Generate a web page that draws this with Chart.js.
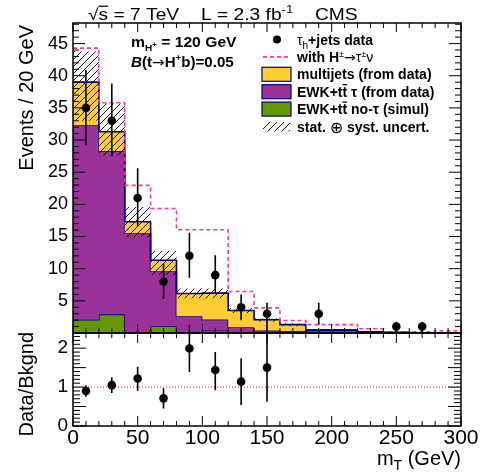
<!DOCTYPE html>
<html>
<head>
<meta charset="utf-8">
<title>mT distribution</title>
<script src="https://cdn.jsdelivr.net/npm/chart.js@4.4.1/dist/chart.umd.min.js"></script>
<style>
  html, body { margin: 0; padding: 0; background: #fff; }
  #wrap { position: relative; width: 488px; height: 474px; overflow: hidden; }
  #wrap canvas { position: absolute; left: 0; }
  #main { top: 0; }
  #ratio { top: 310px; }
</style>
</head>
<body>
<div id="wrap">
  <canvas id="main" width="488" height="360"></canvas>
  <canvas id="ratio" width="488" height="164"></canvas>
</div>
<script>
/* ------------------------------------------------------------
   DATA  (20 GeV bins)
------------------------------------------------------------ */
const binEdges   = [0, 20, 40, 60, 80, 100, 120, 140, 160, 180, 200, 220, 240, 260, 280, 300];
const binCenters = [10, 30, 50, 70, 90, 110, 130, 150, 170, 190, 210, 230, 250, 270, 290];

// stacked backgrounds (per-component, not cumulative)
const ewkNoTau  = [2.05, 2.9, 0, 1.05, 0.1, 0.4, 0, 0, 0, 0, 0, 0, 0, 0, 0];
const ewkTau    = [30.25, 25.4, 15.5, 8.55, 2.5, 1.7, 0.9, 0.4, 0.3, 0.45, 0.45, 0.2, 0.1, 0.05, 0.05];
const multijets = [6.7, 3.0, 1.8, 1.7, 3.55, 4.1, 2.6, 1.65, 1.0, 0, 0, 0, 0, 0, 0];

// stat + syst uncertainty band on the total
const uncLow  = [33.0, 27.6, 14.9, 9.0, 5.4, 5.4, 3.1, 1.75, 1.05, 0.3, 0.3, 0.1, 0.05, 0, 0];
const uncHigh = [43.8, 35.7, 19.6, 12.75, 6.9, 6.9, 3.9, 2.3, 1.5, 0.6, 0.6, 0.3, 0.15, 0.1, 0.1];

// background + H+ signal (mH = 120 GeV, B = 0.05)
const withSignal = [44.3, 35.8, 22.95, 19.35, 16.05, 16.05, 6.45, 3.9, 1.95, 1.3, 1.3, 0.65, 0.2, 0.2, 0.35];

// tau_h + jets data
const dataCounts  = [35, 33, 21, 8, 12, 9, 4, 3, null, 3, null, null, 1, 1, null];
const dataErrLow  = [29.2, 27.5, 16.6, 5.3, 8.6, 6.1, 2.0, 1.3, null, 1.3, null, null, 0.2, 0.2, null];
const dataErrHigh = [40.9, 38.8, 25.6, 10.8, 15.6, 12.1, 6.0, 4.7, null, 4.7, null, null, 1.7, 1.7, null];

// data / background ratio
const ratioValues  = [0.9, 1.05, 1.22, 0.71, 1.99, 1.44, 1.14, 1.5, null, null, null, null, null, null, null];
const ratioErrLow  = [0.75, 0.85, 0.9, 0.45, 1.39, 0.92, 0.54, 0.62, null, null, null, null, null, null, null];
const ratioErrHigh = [1.05, 1.25, 1.52, 0.97, 2.6, 1.9, 1.74, 2.6, null, null, null, null, null, null, null];
const ratioRefLine = [1, 1];

// tick labels
const mainYTicks  = [5, 10, 15, 20, 25, 30, 35, 40, 45];
const ratioYTicks = [0, 0.5, 1, 1.5, 2];
const xTicks      = [0, 50, 100, 150, 200, 250, 300];

/* ------------------------------------------------------------
   STYLE
------------------------------------------------------------ */
const FONT = "'Liberation Sans', Arial, Helvetica, sans-serif";
const SYM_FONT = "'DejaVu Sans', sans-serif";
const C_YELLOW = '#ffcc33';
const C_PURPLE = '#993399';
const C_GREEN  = '#669900';
const C_NAVY   = '#000080';
const C_PINK   = '#ff3399';
const RATIO_TOP = 310;   // page offset of the ratio canvas

Chart.defaults.font.family = FONT;
Chart.defaults.color = '#000';

/* ------------------------------------------------------------
   HELPERS
------------------------------------------------------------ */
// step histogram: one point per left bin edge + closing point at the last edge
function histPoints(vals) {
    const pts = vals.map((v, i) => ({ x: binEdges[i], y: v }));
    pts.push({ x: binEdges[binEdges.length - 1], y: vals[vals.length - 1] });
    return pts;
}

function centerPoints(vals) {
    return binCenters.map((c, i) => ({ x: c, y: vals[i] }));
}

function makeHatch() {
    const c = document.createElement('canvas');
    c.width = 7; c.height = 7;
    const g = c.getContext('2d');
    g.strokeStyle = '#000';
    g.lineWidth = 0.9;
    g.beginPath();
    [-7, 0, 7].forEach(o => { g.moveTo(o - 1, 8); g.lineTo(o + 8, -1); });
    g.stroke();
    return g.createPattern(c, 'repeat');
}
const hatch = makeHatch();

function runFont(r) {
    return `${r.italic ? 'italic ' : ''}${r.bold ? 'bold ' : ''}${r.size}px ${r.sym ? SYM_FONT : FONT}`;
}

function runsWidth(ctx, runs) {
    let w = 0;
    runs.forEach(r => { ctx.font = runFont(r); w += ctx.measureText(r.text).width; });
    return w;
}

// rich text: runs of {text, size, bold, italic, sym, dy, bar}
function drawRuns(ctx, x, y, runs, sx) {
    ctx.save();
    ctx.translate(x, y);
    ctx.scale(sx || 1, 1);
    ctx.fillStyle = '#000';
    ctx.textBaseline = 'alphabetic';
    ctx.textAlign = 'left';
    let cx = 0;
    runs.forEach(r => {
        ctx.font = runFont(r);
        const dy = r.dy || 0;
        ctx.fillText(r.text, cx, dy);
        const w = ctx.measureText(r.text).width;
        if (r.bar) {
            ctx.strokeStyle = '#000';
            ctx.lineWidth = 1.2;
            ctx.beginPath();
            ctx.moveTo(cx, dy - r.size * 0.86);
            ctx.lineTo(cx + w, dy - r.size * 0.86);
            ctx.stroke();
        }
        cx += w;
    });
    ctx.restore();
}

// frame with inward ticks on all four sides
function drawFrame(ctx, a, x, y, t) {
    ctx.save();
    ctx.strokeStyle = '#000';
    ctx.lineWidth = 1;
    ctx.beginPath();
    const nx = Math.round((x.max - x.min) / t.xMinor);
    for (let k = 0; k <= nx; k++) {
        const v = x.min + k * t.xMinor;
        const major = Math.abs(v / t.xMajor - Math.round(v / t.xMajor)) < 1e-6;
        const len = major ? t.xMaj : t.xMin;
        const px = x.getPixelForValue(v);
        ctx.moveTo(px, a.bottom); ctx.lineTo(px, a.bottom - len);
        ctx.moveTo(px, a.top); ctx.lineTo(px, a.top + len);
    }
    for (let k = 0; k * t.yMinor <= y.max + 1e-9; k++) {
        const v = k * t.yMinor;
        const major = Math.abs(v / t.yMajor - Math.round(v / t.yMajor)) < 1e-6;
        const len = major ? t.yMaj : t.yMin;
        const py = y.getPixelForValue(v);
        ctx.moveTo(a.left, py); ctx.lineTo(a.left + len, py);
        ctx.moveTo(a.right, py); ctx.lineTo(a.right - len, py);
    }
    ctx.stroke();
    ctx.lineWidth = 1.5;
    ctx.strokeRect(a.left, a.top, a.right - a.left, a.bottom - a.top);
    ctx.restore();
}

function drawErrorBars(ctx, x, y, vals, lo, hi, clip) {
    ctx.save();
    ctx.beginPath();
    ctx.rect(clip.left, clip.top, clip.right - clip.left, clip.bottom - clip.top);
    ctx.clip();
    ctx.strokeStyle = '#000';
    ctx.lineWidth = 1.6;
    ctx.beginPath();
    binCenters.forEach((c, i) => {
        if (vals[i] == null) return;
        const px = x.getPixelForValue(c);
        ctx.moveTo(px, y.getPixelForValue(lo[i]));
        ctx.lineTo(px, y.getPixelForValue(hi[i]));
    });
    ctx.stroke();
    ctx.restore();
}

/* ------------------------------------------------------------
   MAIN PANEL
------------------------------------------------------------ */
const stackGreen  = ewkNoTau;
const stackPurple = ewkNoTau.map((v, i) => v + ewkTau[i]);
const stackYellow = stackPurple.map((v, i) => v + multijets[i]);

const histStyle = { stepped: true, pointRadius: 0, borderWidth: 1.6, tension: 0 };

const mainDecor = {
    id: 'mainDecor',
    afterDatasetsDraw(chart) {
        const { ctx, chartArea: a, scales: { x, y } } = chart;
        drawErrorBars(ctx, x, y, dataCounts, dataErrLow, dataErrHigh, a);
        drawFrame(ctx, a, x, y, { xMinor: 10, xMajor: 50, xMin: 5, xMaj: 9, yMinor: 1, yMajor: 5, yMin: 6, yMaj: 12 });
    },
    afterDraw(chart) {
        const ctx = chart.ctx;

        // header
        drawRuns(ctx, 88, 20, [{ text: '√', size: 16 }, { text: 's', size: 16, bar: true }, { text: ' = 7 TeV', size: 16 }], 1.2);
        drawRuns(ctx, 201, 20, [{ text: 'L = 2.3 fb', size: 16 }, { text: '-1', size: 11, dy: -7 }], 1.2);
        drawRuns(ctx, 315, 20, [{ text: 'CMS', size: 16 }], 1.2);

        // signal hypothesis
        drawRuns(ctx, 131, 46.7, [
            { text: 'm', size: 14, bold: true },
            { text: 'H', size: 9, bold: true, dy: 4 },
            { text: '+', size: 7, bold: true, dy: 0 },
            { text: ' = 120 GeV', size: 14, bold: true },
        ], 1.12);
        drawRuns(ctx, 131, 66.7, [
            { text: 'B', size: 14, bold: true, italic: true },
            { text: '(t', size: 14, bold: true },
            { text: '→', size: 14, sym: true },
            { text: 'H', size: 14, bold: true },
            { text: '+', size: 9, bold: true, dy: -6 },
            { text: 'b)=0.05', size: 14, bold: true },
        ], 1.08);

        // legend
        const lx = 297, ly0 = 39.5, ldy = 17.4;
        const rowY = k => ly0 + k * ldy;
        ctx.save();
        ctx.fillStyle = '#000';
        ctx.beginPath();
        ctx.arc(277, rowY(0), 4, 0, Math.PI * 2);
        ctx.fill();
        ctx.strokeStyle = C_PINK;
        ctx.lineWidth = 1.6;
        ctx.setLineDash([4, 3]);
        ctx.beginPath();
        ctx.moveTo(263, rowY(1)); ctx.lineTo(291, rowY(1));
        ctx.stroke();
        ctx.setLineDash([]);
        [[C_YELLOW, 2], [C_PURPLE, 3], [C_GREEN, 4]].forEach(([col, k]) => {
            ctx.fillStyle = col;
            ctx.fillRect(262, rowY(k) - 7, 29, 14);
            ctx.strokeStyle = C_NAVY;
            ctx.lineWidth = 1.2;
            ctx.strokeRect(262, rowY(k) - 7, 29, 14);
        });
        ctx.fillStyle = hatch;
        ctx.fillRect(263, rowY(5) - 4.5, 27, 9.5);
        ctx.restore();

        const b = 5;
        drawRuns(ctx, lx, rowY(0) + b, [{ text: 'τ', size: 14 }, { text: 'h', size: 10, dy: 4 }, { text: '+jets data', size: 14, bold: true }]);
        drawRuns(ctx, lx, rowY(1) + b, [
            { text: 'with H', size: 14, bold: true }, { text: '±', size: 9, dy: -5 },
            { text: '→', size: 14, sym: true }, { text: 'τ', size: 14 }, { text: '±', size: 9, dy: -5 }, { text: 'ν', size: 14 },
        ]);
        drawRuns(ctx, lx, rowY(2) + b, [{ text: 'multijets (from data)', size: 14, bold: true }]);
        drawRuns(ctx, lx, rowY(3) + b, [
            { text: 'EWK+t', size: 14, bold: true }, { text: 't', size: 14, bold: true, bar: true },
            { text: ' τ (from data)', size: 14, bold: true },
        ]);
        drawRuns(ctx, lx, rowY(4) + b, [
            { text: 'EWK+t', size: 14, bold: true }, { text: 't', size: 14, bold: true, bar: true },
            { text: ' no-τ (simul)', size: 14, bold: true },
        ]);
        drawRuns(ctx, lx, rowY(5) + b, [
            { text: 'stat. ', size: 14, bold: true }, { text: '⊕', size: 16, sym: true, dy: 1 },
            { text: ' syst. uncert.', size: 14, bold: true },
        ]);

        // y title
        ctx.save();
        ctx.translate(33, 25);
        ctx.rotate(-Math.PI / 2);
        ctx.textAlign = 'right';
        ctx.fillStyle = '#000';
        ctx.font = `20px ${FONT}`;
        ctx.fillText('Events / 20 GeV', 0, 0);
        ctx.restore();
    },
};

new Chart(document.getElementById('main'), {
    type: 'line',
    data: {
        datasets: [
            {
                label: 'τh+jets data', data: centerPoints(dataCounts), showLine: false,
                pointRadius: 4.3, pointBorderWidth: 0, pointBackgroundColor: '#000', borderColor: '#000', order: 0,
            },
            {
                label: 'with H±→τ±ν', data: histPoints(withSignal), ...histStyle,
                borderColor: C_PINK, borderDash: [4, 3], fill: false, order: 1,
            },
            {
                label: 'unc low', data: histPoints(uncLow), ...histStyle,
                borderColor: 'rgba(0,0,0,0)', fill: false, order: 2,
            },
            {
                label: 'stat. ⊕ syst. uncert.', data: histPoints(uncHigh), ...histStyle,
                borderColor: 'rgba(0,0,0,0)', backgroundColor: hatch, fill: '-1', order: 2,
            },
            {
                label: 'multijets (from data)', data: histPoints(stackYellow), ...histStyle,
                borderColor: C_NAVY, backgroundColor: C_YELLOW, fill: '+1', order: 3,
            },
            {
                label: 'EWK+tt τ (from data)', data: histPoints(stackPurple), ...histStyle,
                borderColor: C_NAVY, backgroundColor: C_PURPLE, fill: '+1', order: 4,
            },
            {
                label: 'EWK+tt no-τ (simul)', data: histPoints(stackGreen), ...histStyle,
                borderColor: C_NAVY, backgroundColor: C_GREEN, fill: 'origin', order: 5,
            },
        ],
    },
    options: {
        responsive: false,
        animation: false,
        devicePixelRatio: 1,
        events: [],
        layout: { padding: { top: 23, right: 27, bottom: 27, left: 0 } },
        plugins: { legend: { display: false }, tooltip: { enabled: false } },
        scales: {
            x: { type: 'linear', min: 0, max: 300, display: false },
            y: {
                type: 'linear', min: 0, max: 48.2,
                afterFit: s => { s.width = 73; },
                afterBuildTicks: s => { s.ticks = mainYTicks.map(v => ({ value: v })); },
                grid: { display: false, drawTicks: false },
                border: { display: false },
                ticks: { font: { size: 18 }, padding: 5, color: '#000' },
            },
        },
    },
    plugins: [mainDecor],
});

/* ------------------------------------------------------------
   RATIO PANEL
------------------------------------------------------------ */
const ratioDecor = {
    id: 'ratioDecor',
    afterDatasetsDraw(chart) {
        const { ctx, chartArea: a, scales: { x, y } } = chart;
        drawErrorBars(ctx, x, y, ratioValues, ratioErrLow, ratioErrHigh,
            { left: a.left, right: a.right, top: 0, bottom: a.bottom });
        drawFrame(ctx, a, x, y, { xMinor: 10, xMajor: 50, xMin: 5, xMaj: 10, yMinor: 0.1, yMajor: 0.5, yMin: 7, yMaj: 13 });
    },
    afterDraw(chart) {
        const ctx = chart.ctx;
        ctx.save();
        ctx.translate(33, 332 - RATIO_TOP);
        ctx.rotate(-Math.PI / 2);
        ctx.textAlign = 'right';
        ctx.fillStyle = '#000';
        ctx.font = `20px ${FONT}`;
        ctx.fillText('Data/Bkgnd', 0, 0);
        ctx.restore();

        const runs = [{ text: 'm', size: 20 }, { text: 'T', size: 14, dy: 5 }, { text: ' (GeV)', size: 20 }];
        drawRuns(ctx, 461 - runsWidth(ctx, runs), 465 - RATIO_TOP, runs);
    },
};

new Chart(document.getElementById('ratio'), {
    type: 'line',
    data: {
        datasets: [
            {
                label: 'Data/Bkgnd', data: centerPoints(ratioValues), showLine: false,
                pointRadius: 4.3, pointBorderWidth: 0, pointBackgroundColor: '#000', borderColor: '#000', order: 0,
            },
            {
                label: 'unity', data: ratioRefLine.map((v, i) => ({ x: xTicks[i * (xTicks.length - 1)], y: v })),
                borderColor: '#ff0000', borderWidth: 1, borderDash: [1, 2], pointRadius: 0, fill: false, order: 1,
            },
        ],
    },
    options: {
        responsive: false,
        animation: false,
        devicePixelRatio: 1,
        events: [],
        layout: { padding: { top: 23, right: 27, bottom: 0, left: 0 } },
        plugins: { legend: { display: false }, tooltip: { enabled: false } },
        scales: {
            x: {
                type: 'linear', min: 0, max: 300,
                afterFit: s => { s.height = 48; },
                afterBuildTicks: s => { s.ticks = xTicks.map(v => ({ value: v })); },
                grid: { display: false, drawTicks: false },
                border: { display: false },
                ticks: { font: { size: 21 }, padding: 0, color: '#000', maxRotation: 0, autoSkip: false },
            },
            y: {
                type: 'linear', min: 0, max: 2.39,
                afterFit: s => { s.width = 73; },
                afterBuildTicks: s => { s.ticks = ratioYTicks.map(v => ({ value: v })); },
                grid: { display: false, drawTicks: false },
                border: { display: false },
                ticks: { font: { size: 19 }, padding: 5, color: '#000', callback: v => String(v) },
            },
        },
    },
    plugins: [ratioDecor],
});
</script>
</body>
</html>
